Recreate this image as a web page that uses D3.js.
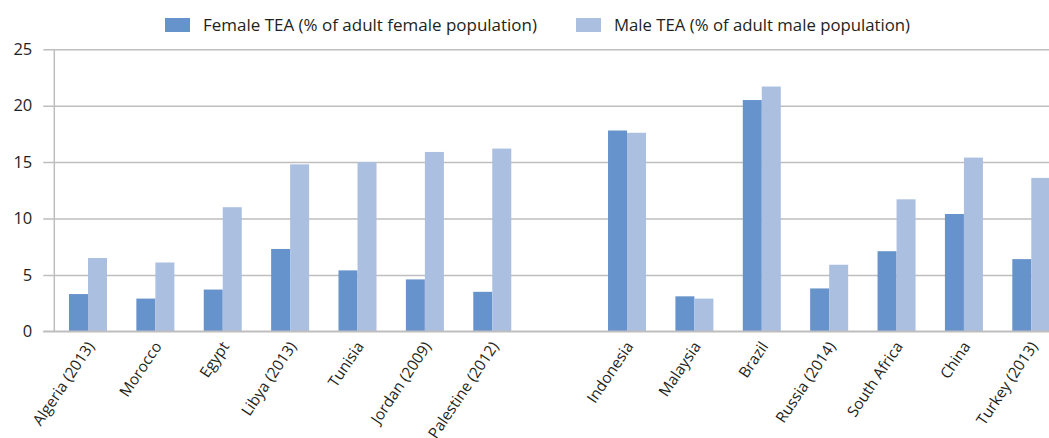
<!DOCTYPE html>
<html>
<head>
<meta charset="utf-8">
<script src="https://cdn.jsdelivr.net/npm/d3@7"></script>
<style>
  html, body { margin: 0; padding: 0; background: #fff; overflow: hidden; }
  svg { display: block; font-family: "Open Sans", "Noto Sans", sans-serif; }
</style>
</head>
<body>
<svg id="chart" width="1049" height="438"></svg>
<script>
// Total early-stage entrepreneurial activity (TEA) by sex
const countries = [
  "Algeria (2013)", "Morocco", "Egypt", "Libya (2013)", "Tunisia", "Jordan (2009)", "Palestine (2012)",
  "",
  "Indonesia", "Malaysia", "Brazil", "Russia (2014)", "South Africa", "China", "Turkey (2013)"
];
const femaleTEA = [3.3, 2.9, 3.7, 7.3, 5.4, 4.6, 3.5, null, 17.8, 3.1, 20.5, 3.8, 7.1, 10.4, 6.4];
const maleTEA   = [6.5, 6.1, 11.0, 14.8, 15.0, 15.9, 16.2, null, 17.6, 2.9, 21.7, 5.9, 11.7, 15.4, 13.6];
const yTicks = [0, 5, 10, 15, 20, 25];
const seriesNames = ["Female TEA (% of adult female population)", "Male TEA (% of adult male population)"];

const colors = ["#6693cb", "#abbfe0"];
const gridColor = "#bebebe";
const textColor = "#231f20";

const svg = d3.select("#chart");
const margin = { left: 54.3, top: 49.3, bottom: 331.3 };
const plotRight = 1065;

const keys = countries.map((c, i) => "k" + i);
const x = d3.scaleBand()
  .domain(keys)
  .range([margin.left, plotRight])
  .paddingInner(0.436)
  .paddingOuter(0.218);

const xSub = d3.scaleBand()
  .domain([0, 1])
  .range([0, x.bandwidth()]);

const y = d3.scaleLinear()
  .domain([0, 25])
  .range([margin.bottom, margin.top]);

// horizontal gridlines with short ticks to the left of the axis
const yAxis = d3.axisLeft(y)
  .tickValues(yTicks)
  .tickSize(-(1049 - margin.left))
  .tickSizeOuter(0)
  .tickPadding(12);

const gy = svg.append("g")
  .attr("transform", `translate(${margin.left},0)`)
  .call(yAxis);
gy.select(".domain").remove();
gy.selectAll(".tick line")
  .attr("x1", -11)
  .attr("stroke", gridColor)
  .attr("stroke-width", 1.5);
gy.selectAll(".tick text")
  .attr("x", -22)
  .attr("fill", textColor)
  .style("font-size", "16.5px")
  .style("font-family", "'Open Sans', sans-serif");

// vertical axis line
svg.append("line")
  .attr("x1", margin.left).attr("x2", margin.left)
  .attr("y1", y(25)).attr("y2", y(0))
  .attr("stroke", gridColor)
  .attr("stroke-width", 1.5);

// bars
const seriesData = [femaleTEA, maleTEA];
seriesData.forEach((vals, s) => {
  svg.append("g")
    .selectAll("rect")
    .data(vals.map((v, i) => ({ v, k: keys[i] })).filter(d => d.v !== null))
    .join("rect")
    .attr("x", d => x(d.k) + xSub(s))
    .attr("width", xSub.bandwidth())
    .attr("y", d => y(d.v))
    .attr("height", d => y(0) - y(d.v))
    .attr("fill", colors[s]);
});

// redraw baseline on top of the bars
svg.append("line")
  .attr("x1", margin.left - 11).attr("x2", 1049)
  .attr("y1", y(0)).attr("y2", y(0))
  .attr("stroke", gridColor)
  .attr("stroke-width", 1.5);

// category labels, rotated
const xAxis = d3.axisBottom(x)
  .tickFormat((k, i) => countries[i])
  .tickSize(0)
  .tickSizeOuter(0);
const gx = svg.append("g")
  .attr("transform", `translate(0,${y(0)})`)
  .call(xAxis);
gx.select(".domain").remove();
gx.selectAll(".tick text")
  .attr("fill", textColor)
  .style("font-size", "15.3px")
  .style("font-family", "'Open Sans', sans-serif")
  .attr("text-anchor", "end")
  .attr("dy", 0)
  .attr("y", 0)
  .attr("transform", "translate(7,15) rotate(-56)");

// legend
const legendPos = [{ sx: 165, tx: 203, w: 334 }, { sx: 576, tx: 614, w: 296 }];
const legend = svg.append("g");
seriesNames.forEach((name, i) => {
  legend.append("rect")
    .attr("x", legendPos[i].sx).attr("y", 18)
    .attr("width", 25).attr("height", 14)
    .attr("fill", colors[i]);
  legend.append("text")
    .attr("x", legendPos[i].tx).attr("y", 30.5)
    .attr("fill", textColor)
    .attr("textLength", legendPos[i].w)
    .attr("lengthAdjust", "spacingAndGlyphs")
    .style("font-size", "16.5px")
    .text(name);
});
</script>
</body>
</html>
